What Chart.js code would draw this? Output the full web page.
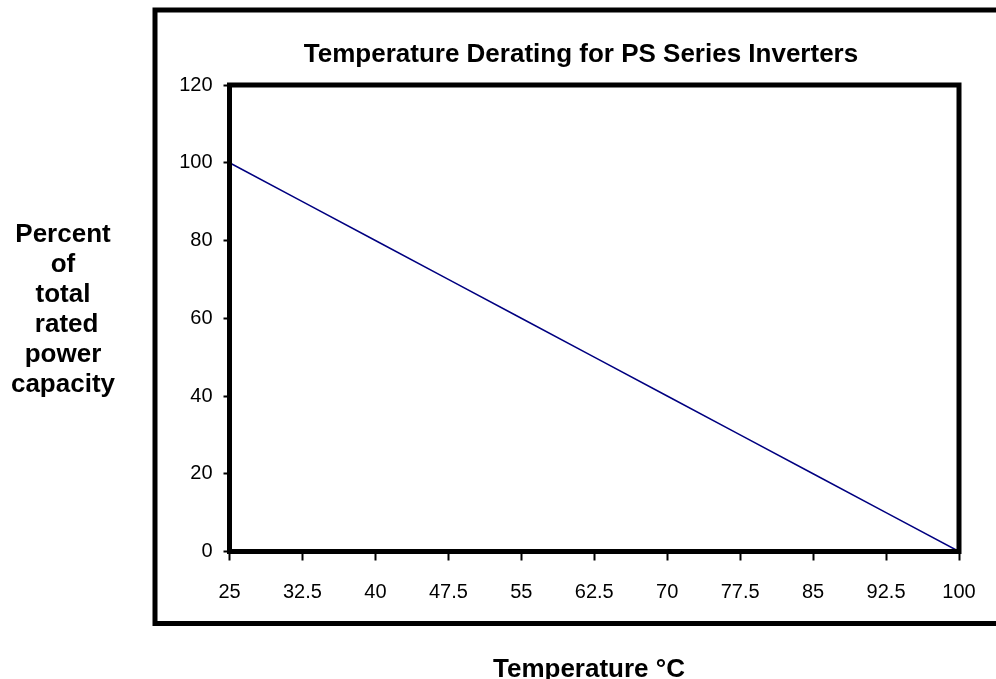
<!DOCTYPE html>
<html>
<head>
<meta charset="utf-8">
<script src="https://cdn.jsdelivr.net/npm/chart.js@4"></script>
<style>
  body { margin: 0; background: #fff; }
  .wrap { position: relative; width: 996px; height: 679px; overflow: hidden; }
  .txt { position: absolute; font-family: "Liberation Sans", Arial, sans-serif; font-weight: bold;
         font-size: 26px; line-height: 26px; color: #000; white-space: pre; }
  #title { left: 581px; top: 40px; transform: translateX(-50%); }
  #ytitle { left: -37px; top: 218px; width: 200px; text-align: center; line-height: 30px; }
  #xtitle { left: 493px; top: 655px; }
</style>
</head>
<body>
<div class="wrap">
  <canvas id="chart" width="996" height="679"></canvas>
  <div class="txt" id="title">Temperature Derating for PS Series Inverters</div>
  <div class="txt" id="ytitle">Percent
of
total
 rated
power
capacity</div>
  <div class="txt" id="xtitle">Temperature °C</div>
</div>
<script>
// temperature categories (°C) and derated capacity (%)
const temps = ['25', '32.5', '40', '47.5', '55', '62.5', '70', '77.5', '85', '92.5', '100'];
const percent = [100, 90, 80, 70, 60, 50, 40, 30, 20, 10, 0];
const yMin = 0;
const yMax = 120;
const yStep = 20;

const tickFont = { family: '"Liberation Sans", Arial, sans-serif', size: 20 };

// thick frames: outer chart frame + plot area box
const frames = {
    id: 'frames',
    beforeDraw(chart) {
        const ctx = chart.ctx;
        ctx.save();
        ctx.strokeStyle = '#000';
        ctx.lineWidth = 5;
        ctx.strokeRect(155, 10, 860, 613.5);
        ctx.restore();
    },
    afterDatasetsDraw(chart) {
        const a = chart.chartArea;
        const ctx = chart.ctx;
        ctx.save();
        ctx.strokeStyle = '#000';
        ctx.lineWidth = 5;
        ctx.strokeRect(a.left, a.top, a.right - a.left, a.bottom - a.top);
        ctx.restore();
    }
};

new Chart(document.getElementById('chart'), {
    type: 'line',
    data: {
        labels: temps,
        datasets: [{
            data: percent,
            borderColor: '#000080',
            borderWidth: 1.5,
            pointRadius: 0,
            tension: 0
        }]
    },
    options: {
        responsive: false,
        animation: false,
        layout: { padding: { left: 179.5, right: 37, top: 85, bottom: 67.5 } },
        scales: {
            x: {
                offset: false,
                afterFit(scale) { scale.height = 60; },
                grid: { drawOnChartArea: false, tickLength: 9, tickWidth: 2, tickColor: '#000' },
                border: { display: false },
                ticks: { font: tickFont, color: '#000', padding: 20, maxRotation: 0, autoSkip: false }
            },
            y: {
                min: yMin,
                max: yMax,
                afterFit(scale) { scale.width = 50; },
                grid: { drawOnChartArea: false, tickLength: 6, tickWidth: 2, tickColor: '#000' },
                border: { display: false },
                ticks: { stepSize: yStep, font: tickFont, color: '#000', padding: 11 }
            }
        },
        plugins: {
            legend: { display: false },
            tooltip: { enabled: false }
        }
    },
    plugins: [frames]
});
</script>
</body>
</html>
